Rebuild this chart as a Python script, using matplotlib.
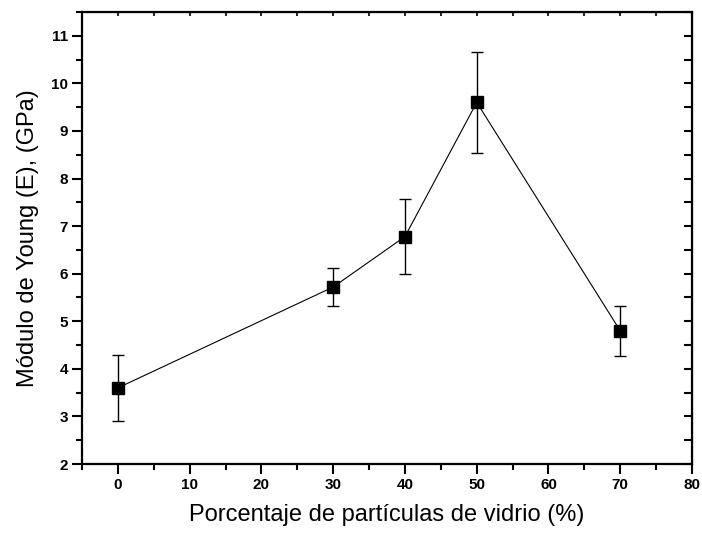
import matplotlib
matplotlib.use('Agg')
import matplotlib.pyplot as plt
from matplotlib.ticker import MultipleLocator

plt.rcParams['font.family'] = ['Liberation Sans', 'DejaVu Sans']

# data
vidrio = [0, 30, 40, 50, 70]
young = [3.60, 5.72, 6.78, 9.60, 4.80]
error = [0.69, 0.40, 0.79, 1.06, 0.53]

fig = plt.figure(figsize=(7.02, 5.36), dpi=100)
ax = fig.add_axes([0.1168, 0.1343, 0.869, 0.8433])

ax.errorbar(vidrio, young, yerr=error, color='black', linewidth=0.8,
            marker='s', markersize=9, ecolor='black', elinewidth=1.0,
            capsize=4, capthick=1.0)

ax.set_xlim(-5, 80)
ax.set_ylim(2, 11.5)
ax.xaxis.set_major_locator(MultipleLocator(10))
ax.xaxis.set_minor_locator(MultipleLocator(5))
ax.yaxis.set_major_locator(MultipleLocator(1))
ax.yaxis.set_minor_locator(MultipleLocator(0.5))

for s in ax.spines.values():
    s.set_linewidth(1.6)

ax.tick_params(which='both', direction='out', width=1.5, top=False, right=False)
ax.tick_params(which='major', length=7, pad=3)
ax.tick_params(which='minor', length=4)
for lab in ax.get_xticklabels() + ax.get_yticklabels():
    lab.set_fontweight('bold')
    lab.set_fontsize(11)

# mirrored ticks pointing inward on top and right
axt = ax.secondary_xaxis('top')
axt.xaxis.set_major_locator(MultipleLocator(5))
axt.tick_params(direction='in', length=3, width=1.2, labeltop=False)
axr = ax.secondary_yaxis('right')
axr.yaxis.set_major_locator(MultipleLocator(0.5))
axr.tick_params(direction='in', length=6, width=1.5, labelright=False)

ax.set_xlabel('Porcentaje de partículas de vidrio (%)', fontsize=17, labelpad=9)
ax.set_ylabel('Módulo de Young (E), (GPa)', fontsize=17, labelpad=9)

fig.savefig('out.png', dpi=100)
